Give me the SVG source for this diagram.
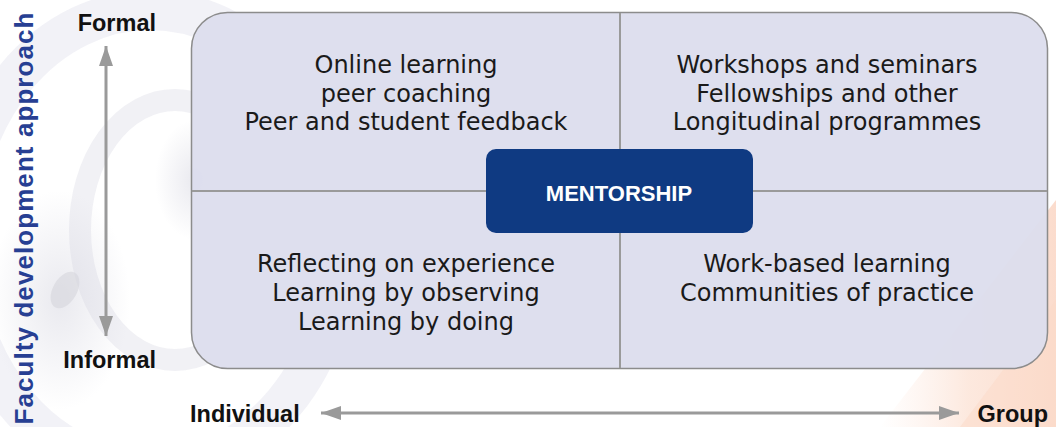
<svg xmlns="http://www.w3.org/2000/svg" width="1056" height="427" viewBox="0 0 1056 427">
  <style>
    .q { font-family: "DejaVu Sans", "Liberation Sans", sans-serif; font-size: 24px; fill: #1a1a1a; text-anchor: middle; }
    .ax { font-family: "Liberation Sans", Arial, sans-serif; font-size: 23.5px; font-weight: bold; fill: #111; }
    .axl { stroke: #9a9a9a; stroke-width: 3; fill: none; }
    .div { stroke: #9a9a9a; stroke-width: 2; }
  </style>
  <defs>
    <marker id="ah" viewBox="0 0 20 14" refX="20" refY="7" markerWidth="20" markerHeight="14" markerUnits="userSpaceOnUse" orient="auto-start-reverse">
      <path d="M0,0 L20,7 L0,14 Z" fill="#9a9a9a"/>
    </marker>
    <linearGradient id="peach" x1="0" y1="0" x2="1" y2="0">
      <stop offset="0" stop-color="#fde9e0" stop-opacity="0"/>
      <stop offset="0.5" stop-color="#fce3d6" stop-opacity="0.8"/>
      <stop offset="1" stop-color="#fbdccd" stop-opacity="1"/>
    </linearGradient>
    <radialGradient id="blob" cx="0.5" cy="0.5" r="0.5">
      <stop offset="0" stop-color="#cfcfdb" stop-opacity="0.45"/>
      <stop offset="1" stop-color="#cfcfdb" stop-opacity="0"/>
    </radialGradient>
  </defs>

  <!-- background -->
  <rect x="0" y="0" width="1056" height="427" fill="#ffffff"/>
  <g id="background">
    <ellipse cx="150" cy="240" rx="190" ry="230" fill="none" stroke="#ececf3" stroke-width="40" opacity="0.7"/>
    <ellipse cx="175" cy="230" rx="95" ry="130" fill="none" stroke="#e4e4ec" stroke-width="22" opacity="0.5"/>
    <ellipse cx="60" cy="300" rx="70" ry="110" fill="url(#blob)"/>
    <ellipse cx="195" cy="180" rx="40" ry="60" fill="url(#blob)"/>
    <ellipse cx="65" cy="290" rx="12" ry="20" fill="#d6d6dc" opacity="0.6" transform="rotate(30 65 290)"/>
    <polygon points="880,427 1056,200 1056,427" fill="url(#peach)"/>
    <polygon points="960,427 1056,300 1056,427" fill="#fbd9c8" opacity="0.5"/>
  </g>

  <!-- quadrant panel -->
  <g id="panel">
    <rect x="191.5" y="12.5" width="856" height="356" rx="36" ry="36" fill="#dcdded" fill-opacity="0.95" stroke="#8c8c8c" stroke-width="1.5"/>
    <line class="div" x1="620" y1="13" x2="620" y2="368"/>
    <line class="div" x1="192" y1="191" x2="1047" y2="191"/>
  </g>

  <g id="q-formal-individual">
    <text class="q" x="406" y="73">Online learning</text>
    <text class="q" x="406" y="101.5">peer coaching</text>
    <text class="q" x="406" y="130">Peer and student feedback</text>
  </g>
  <g id="q-formal-group">
    <text class="q" x="827" y="73">Workshops and seminars</text>
    <text class="q" x="827" y="101.5">Fellowships and other</text>
    <text class="q" x="827" y="130">Longitudinal programmes</text>
  </g>
  <g id="q-informal-individual">
    <text class="q" x="406" y="272">Reflecting on experience</text>
    <text class="q" x="406" y="301">Learning by observing</text>
    <text class="q" x="406" y="330">Learning by doing</text>
  </g>
  <g id="q-informal-group">
    <text class="q" x="827" y="272">Work-based learning</text>
    <text class="q" x="827" y="301">Communities of practice</text>
  </g>

  <g id="mentorship">
    <rect x="486" y="149" width="267" height="84" rx="10" ry="10" fill="#0f3a82"/>
    <text x="619" y="201" font-family="Liberation Sans, Arial, sans-serif" font-size="22" font-weight="bold" fill="#ffffff" text-anchor="middle">MENTORSHIP</text>
  </g>

  <!-- axes -->
  <g id="connectors">
    <line class="axl" x1="106" y1="46" x2="106" y2="336" marker-start="url(#ah)" marker-end="url(#ah)"/>
    <line class="axl" x1="321" y1="413" x2="959" y2="413" marker-start="url(#ah)" marker-end="url(#ah)"/>
  </g>

  <g id="axis-labels">
    <text class="ax" x="156" y="31" text-anchor="end">Formal</text>
    <text class="ax" x="156" y="368" text-anchor="end">Informal</text>
    <text class="ax" x="190" y="422">Individual</text>
    <text class="ax" x="1048" y="422" text-anchor="end">Group</text>
    <text x="33" y="218.5" transform="rotate(-90 33 218.5)" font-family="Liberation Sans, Arial, sans-serif" font-size="26" font-weight="bold" fill="#273f93" text-anchor="middle" textLength="412" lengthAdjust="spacing">Faculty development approach</text>
  </g>
</svg>
